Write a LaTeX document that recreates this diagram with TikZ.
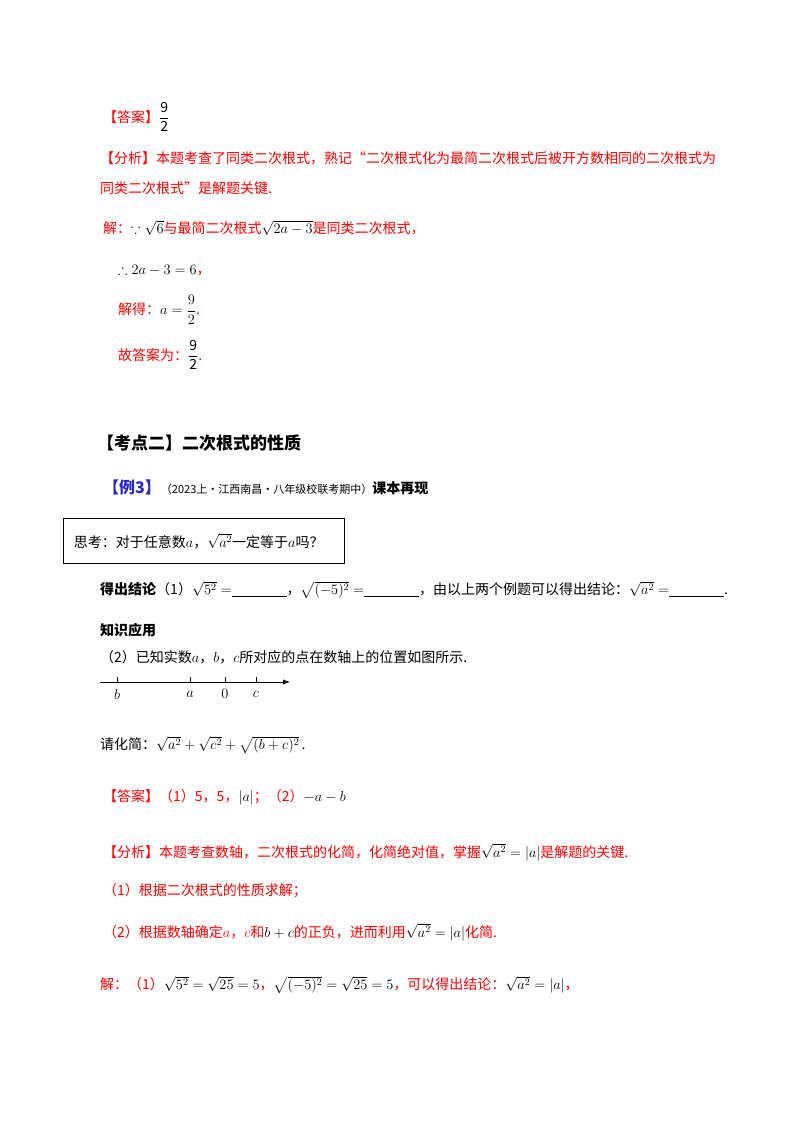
\documentclass[tikz,border=0pt]{standalone}
\usepackage{amsmath,amssymb}
\usepackage{fontspec}
\usetikzlibrary{arrows.meta}
\setmainfont{Noto Sans CJK SC}
\definecolor{ansred}{RGB}{255,0,0}
\definecolor{exblue}{RGB}{40,40,200}
\tikzset{txt/.style={anchor=west,inner sep=0pt,font=\fontsize{14}{16}\selectfont},
 red/.style={txt,text=ansred}}
\newcommand{\blank}{\underline{\hspace{55pt}}}
\newcommand{\mk}[1]{\textcolor{black}{$#1$}}
\begin{document}
\begin{tikzpicture}[x=1pt,y=-1pt]
\useasboundingbox (0,0) rectangle (800,1132);
\node[red] (ans1) at (103,117) {【答案】\mk{\dfrac{\text{9}}{\text{2}}}};
\node[red] (an1) at (100,158) {【分析】本题考查了同类二次根式，熟记“二次根式化为最简二次根式后被开方数相同的二次根式为};
\node[red] (an2) at (100,188) {同类二次根式”是解题关键.};
\node[red] (j1) at (103,228) {解：\mk{\because\sqrt{6}}与最简二次根式\mk{\sqrt{2a-3}}是同类二次根式，};
\node[red] (j2) at (118,270) {\mk{\therefore 2a-3=6}，};
\node[red] (j3) at (118,310) {解得：\mk{a=\dfrac{9}{2}}.};
\node[red] (j4) at (118,355) {故答案为：\mk{\dfrac{\text{9}}{\text{2}}}.};
\node[txt,font=\fontsize{17}{19}\selectfont\bfseries] (kd) at (97,443) {【考点二】二次根式的性质};
\node[txt] (ex) at (103,487) {\textcolor{exblue}{\bfseries\fontsize{16}{18}\selectfont【例3】}{\fontsize{11}{13}\selectfont（2023上·江西南昌·八年级校联考期中）}\textbf{课本再现}};
\node[txt,draw,thick,inner sep=0pt,minimum width=281pt,minimum height=45pt,anchor=north west,text width=270pt,align=left] (box) at (63,518) {\hspace*{5pt}思考：对于任意数$a$，$\sqrt{a^2}$一定等于$a$吗？};
\node[txt] (c1) at (100,590) {\textbf{得出结论}（1）$\sqrt{5^2}=$\blank，$\sqrt{(-5)^2}=$\blank，由以上两个例题可以得出结论：$\sqrt{a^2}=$\blank.};
\node[txt,font=\fontsize{14}{16}\selectfont\bfseries] (zs) at (100,630) {知识应用};
\node[txt] (q2) at (100,657) {（2）已知实数$a$，$b$，$c$所对应的点在数轴上的位置如图所示.};
\coordinate (l0) at (100,682);
\coordinate (l1) at (290,682);
\draw[-{Latex[length=7pt]},thick] (l0) -- (l1);
\foreach \x/\t in {117/b,190/a,225/0,256/c}{
  \draw (\x,682) -- (\x,677);
  \node[inner sep=0pt,font=\fontsize{15}{17}\selectfont] at (\x,694) {$\t$};
}
\node[txt] (qh) at (100,745) {请化简：$\sqrt{a^2}+\sqrt{c^2}+\sqrt{(b+c)^2}$\,.};
\node[red] (ans2) at (103,797) {【答案】（1）5，5，\mk{|a|}；（2）\mk{-a-b}};
\node[red] (fx) at (103,852) {【分析】本题考查数轴，二次根式的化简，化简绝对值，掌握\mk{\sqrt{a^2}=|a|}是解题的关键.};
\node[red] (f1) at (103,891) {（1）根据二次根式的性质求解；};
\node[red] (f2) at (103,932) {（2）根据数轴确定$a$，$c$和\mk{b+c}的正负，进而利用\mk{\sqrt{a^2}=|a|}化简.};
\node[red] (jj) at (100,985) {解：（1）\mk{\sqrt{5^2}=\sqrt{25}=5}，\mk{\sqrt{(-5)^2}=\sqrt{25}=5}，可以得出结论：\mk{\sqrt{a^2}=|a|}，};
\end{tikzpicture}
\end{document}
